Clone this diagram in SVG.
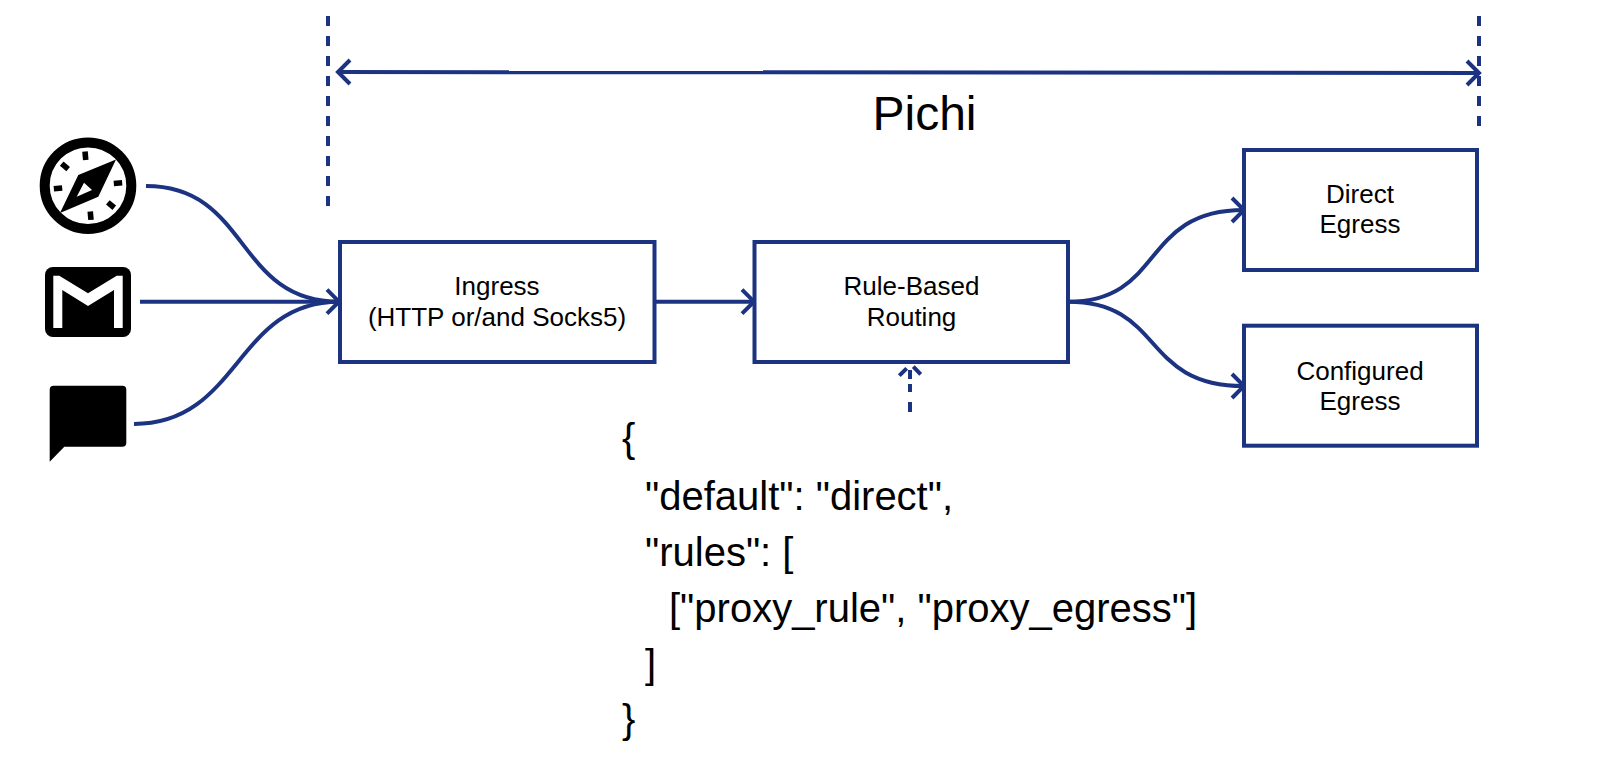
<svg xmlns="http://www.w3.org/2000/svg" width="1600" height="760" viewBox="0 0 1600 760">
<style>
.bg{fill:#fff}
.box{fill:#fff;stroke:#1c3382;stroke-width:4}
.c{fill:none;stroke:#1c3382;stroke-width:4}
.d{fill:none;stroke:#1c3382;stroke-width:4;stroke-dasharray:10 10}
text{font-family:"Liberation Sans",Arial,sans-serif;fill:#000}
.l{font-size:26px;text-anchor:middle}
.t{font-size:48px;text-anchor:middle}
.j{font-size:40px}
</style>
<defs>
<marker id="head" markerUnits="userSpaceOnUse" markerWidth="20" markerHeight="30" refX="14" refY="13" orient="auto-start-reverse" overflow="visible">
<path d="M2 1 L14 13 L2 25" fill="none" stroke="#1c3382" stroke-width="4"/>
</marker>
</defs>
<rect class="bg" width="1600" height="760"/>
<g id="connectors">
<path class="d" d="M328 16V206"/>
<path class="d" d="M1479 16V126"/>
<path class="c" marker-start="url(#head)" marker-end="url(#head)" d="M338 72L1479 73"/>
<path class="c" d="M146 186C250 186 235 301.7 339 301.7"/>
<path class="c" marker-end="url(#head)" d="M140 301.7H339"/>
<path class="c" d="M134 424C240 424 235 301.7 339 301.7"/>
<path class="c" marker-end="url(#head)" d="M654 301.7H754"/>
<path class="c" marker-end="url(#head)" d="M1068 301.7C1165 301.7 1140 210 1244 210"/>
<path class="c" marker-end="url(#head)" d="M1068 301.7C1165 301.7 1140 386 1244 386"/>
<path class="c" d="M910 412V402M910 392V384M910 379V370M899.3 375.7L906.7 368.3M913.3 366.7L920.7 374.3"/>
</g>
<g id="browser-icon">
<circle cx="88" cy="185.7" r="43.3" fill="#fff" stroke="#000" stroke-width="10"/>
<g transform="rotate(-5 88 185.7)" fill="#000">
<rect x="85.2" y="151.4" width="5.6" height="8.4"/>
<rect x="85.2" y="151.4" width="5.6" height="8.4" transform="rotate(90 88 185.7)"/>
<rect x="85.2" y="151.4" width="5.6" height="8.4" transform="rotate(180 88 185.7)"/>
<rect x="85.2" y="151.4" width="5.6" height="8.4" transform="rotate(270 88 185.7)"/>
<rect x="85.2" y="151.4" width="5.6" height="8.4" transform="rotate(-45 88 185.7)"/>
<rect x="85.2" y="151.4" width="5.6" height="8.4" transform="rotate(135 88 185.7)"/>
</g>
<path fill="#000" fill-rule="evenodd" d="M116 159.5L98.3 196.7L60 213L78.3 175ZM84 182.7L92 190L76.7 196.7Z"/>
</g>
<g id="mail-icon">
<rect x="45" y="267" width="86" height="70" rx="8" fill="#000"/>
<path fill="#fff" d="M53.3 275.7H59.3L88 293.3L116.7 275.7H122.7V328H114V290L88 306L62.3 290V328H53.3Z"/>
</g>
<g id="chat-icon">
<path fill="#000" d="M53.7 385.7H122.3Q126.3 385.7 126.3 389.7V442.7Q126.3 446.7 122.3 446.7H64.3L49.7 461.7V389.7Q49.7 385.7 53.7 385.7Z"/>
</g>
<g id="ingress">
<rect class="box" x="340" y="242" width="314.5" height="120"/>
<text class="l" x="497" y="295">Ingress</text>
<text class="l" x="497" y="325.5">(HTTP or/and Socks5)</text>
</g>
<g id="routing">
<rect class="box" x="754.5" y="242" width="313.5" height="120"/>
<text class="l" x="911.5" y="295">Rule-Based</text>
<text class="l" x="911.5" y="325.5">Routing</text>
</g>
<g id="direct-egress">
<rect class="box" x="1244" y="150" width="233" height="120"/>
<text class="l" x="1360" y="203">Direct</text>
<text class="l" x="1360" y="233">Egress</text>
</g>
<g id="configured-egress">
<rect class="box" x="1244" y="325.7" width="233" height="120"/>
<text class="l" x="1360" y="379.5">Configured</text>
<text class="l" x="1360" y="409.5">Egress</text>
</g>
<g id="pichi-label">
<text class="t" x="924.5" y="130">Pichi</text>
</g>
<g id="rules-config">
<text class="j" x="622" y="452">{</text>
<text class="j" x="645" y="510">"default": "direct",</text>
<text class="j" x="645" y="566">"rules": [</text>
<text class="j" x="669" y="622">["proxy_rule", "proxy_egress"]</text>
<text class="j" x="645" y="678">]</text>
<text class="j" x="622" y="733">}</text>
</g>
</svg>
